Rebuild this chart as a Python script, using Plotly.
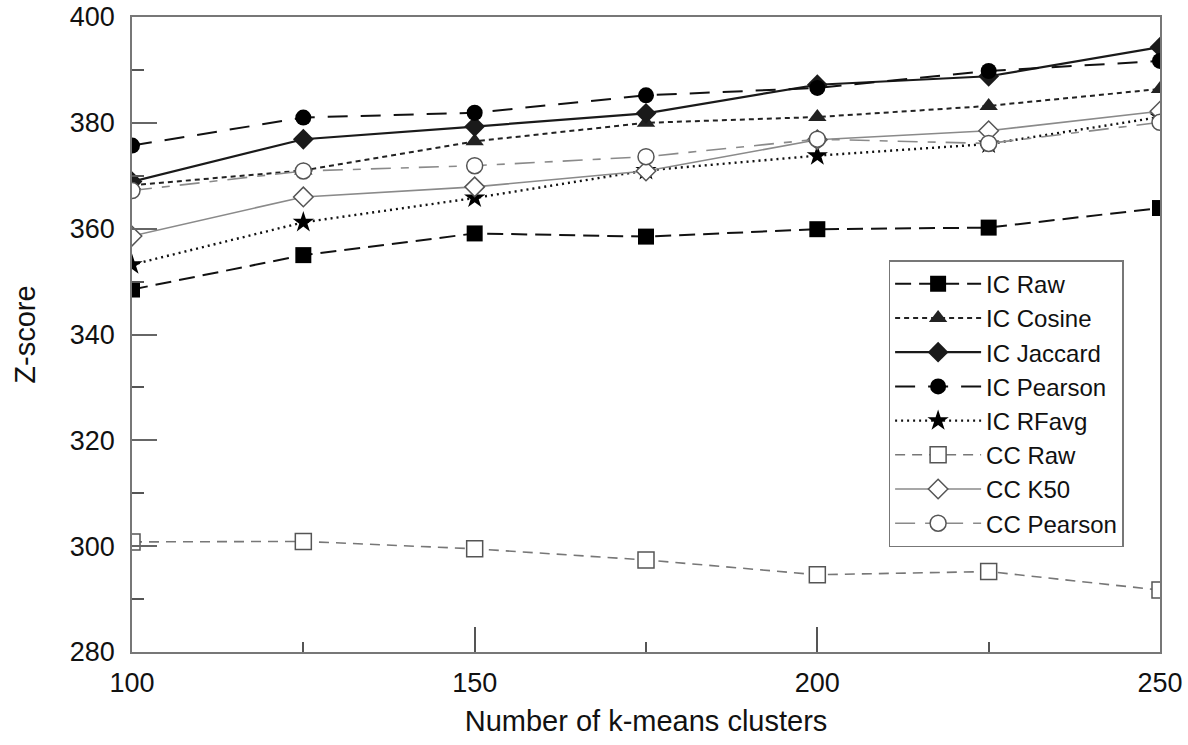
import plotly.graph_objects as go

clusters = [100, 125, 150, 175, 200, 225, 250]

ic_raw = [348.5, 355.0, 359.1, 358.5, 359.9, 360.2, 363.9]
ic_cosine = [368.2, 371.0, 376.5, 380.0, 381.1, 383.2, 386.4]
ic_jaccard = [368.9, 376.9, 379.3, 381.8, 387.2, 388.8, 394.3]
ic_pearson = [375.7, 381.0, 381.9, 385.2, 386.6, 389.8, 391.7]
ic_rfavg = [353.2, 361.2, 365.8, 371.0, 373.8, 376.0, 381.1]
cc_raw = [300.8, 300.9, 299.5, 297.4, 294.6, 295.2, 291.7]
cc_k50 = [358.6, 366.0, 367.9, 370.9, 376.8, 378.5, 382.2]
cc_pearson = [367.2, 370.9, 371.9, 373.6, 376.9, 376.1, 380.1]

x_ticks = [100, 150, 200, 250]
y_ticks = [280, 300, 320, 340, 360, 380, 400]

series = [
    ("IC Raw", ic_raw, dict(color="#111111", width=2, dash="16px,8px"),
     dict(symbol="square", size=16, color="#000000", line=dict(width=0))),
    ("IC Cosine", ic_cosine, dict(color="#222222", width=2, dash="5px,4px"),
     dict(symbol="triangle-up", size=16, color="#222222", line=dict(width=0))),
    ("IC Jaccard", ic_jaccard, dict(color="#1a1a1a", width=2.2),
     dict(symbol="diamond", size=16, color="#1a1a1a", line=dict(width=0))),
    ("IC Pearson", ic_pearson, dict(color="#111111", width=2, dash="20px,13px"),
     dict(symbol="circle", size=16, color="#000000", line=dict(width=0))),
    ("IC RFavg", ic_rfavg, dict(color="#111111", width=2.4, dash="2px,4px"),
     dict(symbol="star", size=16, color="#000000", line=dict(width=0))),
    ("CC Raw", cc_raw, dict(color="#777777", width=1.6, dash="10px,7px"),
     dict(symbol="square", size=16, color="white", line=dict(width=1.5, color="#555555"))),
    ("CC K50", cc_k50, dict(color="#8a8a8a", width=1.6),
     dict(symbol="diamond", size=15, color="white", line=dict(width=1.5, color="#555555"))),
    ("CC Pearson", cc_pearson, dict(color="#8a8a8a", width=1.6, dash="20px,10px,8px,10px"),
     dict(symbol="circle", size=16, color="white", line=dict(width=1.5, color="#555555"))),
]

fig = go.Figure()
for name, vals, line, marker in series:
    fig.add_trace(go.Scatter(x=clusters, y=vals, name=name, mode="lines+markers",
                             line=line, marker=marker))

font_family = "Liberation Sans, Arial, sans-serif"
fig.update_layout(
    width=1188, height=745,
    margin=dict(l=132, r=28, t=17, b=93, autoexpand=False),
    paper_bgcolor="white", plot_bgcolor="white",
    font=dict(family=font_family, color="#111111", size=27),
    showlegend=True,
    legend=dict(x=0.736, y=0.617, xanchor="left", yanchor="top",
                bgcolor="white", bordercolor="#777777", borderwidth=1.5,
                font=dict(size=24, family=font_family, color="#111111"),
                itemwidth=86, tracegroupgap=0),
    xaxis=dict(range=[100, 250], tickvals=x_ticks, ticks="inside", ticklen=25,
               tickcolor="#555555", tickwidth=1.5, showline=True, linecolor="#777777",
               linewidth=1.5, mirror=True, showgrid=False, zeroline=False,
               automargin=False, ticklabeloverflow="allow",
               tickfont=dict(size=27), ticklabelstandoff=6,
               minor=dict(dtick=25, tick0=100, ticks="inside", ticklen=10,
                          tickcolor="#555555", tickwidth=1.5),
               title=dict(text="Number of k-means clusters", font=dict(size=29), standoff=14)),
    yaxis=dict(range=[280, 400], tickvals=y_ticks, ticks="inside", ticklen=25,
               tickcolor="#666666", tickwidth=1.5, showline=True, linecolor="#777777",
               linewidth=1.5, mirror=True, showgrid=False, zeroline=False,
               automargin=False, ticklabeloverflow="allow",
               tickfont=dict(size=27), ticklabelstandoff=10,
               minor=dict(dtick=10, tick0=280, ticks="inside", ticklen=12,
                          tickcolor="#555555", tickwidth=1.5),
               title=dict(text="Z-score", font=dict(size=29), standoff=26)),
)

fig.write_html("out.html", config={"displayModeBar": False},
               post_script="document.body.style.margin='0';document.body.style.overflow='hidden';")
